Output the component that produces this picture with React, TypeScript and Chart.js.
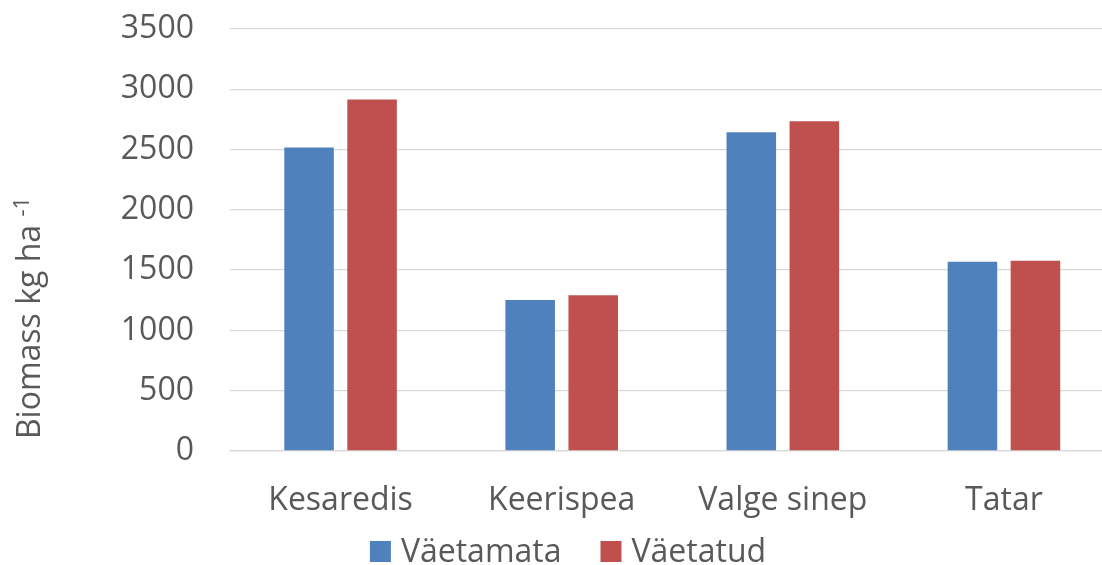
import { useEffect, useRef } from "react";
import { Chart, registerables } from "chart.js";

Chart.register(...registerables);

// Biomass per cover crop, without and with fertiliser
const categories = ["Kesaredis", "Keerispea", "Valge sinep", "Tatar"];
const seriesNames = ["Väetamata", "Väetatud"];
const unfertilised = [2518, 1252, 2643, 1570];
const fertilised = [2916, 1291, 2734, 1578];
const yTickValues = [0, 500, 1000, 1500, 2000, 2500, 3000, 3500];
const seriesColors = ["#4f81bd", "#c0504d"];

const TEXT = "#595959";
const GRID = "#d9d9d9";
const FONT = "'Open Sans', sans-serif";

// Rotated y-axis title with the "-1" exponent raised and smaller
const yTitlePlugin = {
  id: "yTitleWithExponent",
  afterDraw(chart: Chart) {
    const { ctx, chartArea } = chart;
    const main = "Biomass kg ha ";
    const sup = "-1";
    ctx.save();
    ctx.fillStyle = TEXT;
    ctx.textBaseline = "alphabetic";
    ctx.textAlign = "left";
    ctx.font = `32px ${FONT}`;
    const w1 = ctx.measureText(main).width;
    ctx.font = `22px ${FONT}`;
    const w2 = ctx.measureText(sup).width;
    const total = w1 + w2;
    const cy = (chartArea.top + chartArea.bottom) / 2 + 78;
    ctx.translate(39.5, cy);
    ctx.rotate(-Math.PI / 2);
    ctx.font = `32px ${FONT}`;
    ctx.fillText(main, -total / 2, 0);
    ctx.font = `22px ${FONT}`;
    ctx.fillText(sup, -total / 2 + w1, -11);
    ctx.restore();
  },
};

// Legend row under the category labels
const legendPlugin = {
  id: "bottomLegend",
  afterDraw(chart: Chart) {
    const { ctx, chartArea } = chart;
    const box = 21;
    const textGap = 10;
    const itemGap = 39;
    ctx.save();
    ctx.font = `32px ${FONT}`;
    ctx.textBaseline = "alphabetic";
    ctx.textAlign = "left";
    const widths = chart.data.datasets.map((d) => ctx.measureText(String(d.label)).width);
    const total =
      widths.reduce((s, w) => s + box + textGap + w, 0) + itemGap * (widths.length - 1);
    let x = chart.width / 2 + 7 - total / 2;
    const boxTop = chartArea.bottom + 90;
    const baseline = chartArea.bottom + 110.5;
    chart.data.datasets.forEach((d, i) => {
      ctx.fillStyle = String(d.backgroundColor);
      ctx.fillRect(x, boxTop, box, box);
      ctx.fillStyle = TEXT;
      ctx.fillText(String(d.label), x + box + textGap, baseline);
      x += box + textGap + widths[i] + itemGap;
    });
    ctx.restore();
  },
};

export default function App() {
  const canvasRef = useRef<HTMLCanvasElement | null>(null);

  useEffect(() => {
    if (!canvasRef.current) return;
    const chart = new Chart(canvasRef.current, {
      type: "bar",
      data: {
        labels: categories,
        datasets: [
          {
            label: seriesNames[0],
            data: unfertilised,
            backgroundColor: seriesColors[0],
            categoryPercentage: 0.57,
            barPercentage: 0.786,
          },
          {
            label: seriesNames[1],
            data: fertilised,
            backgroundColor: seriesColors[1],
            categoryPercentage: 0.57,
            barPercentage: 0.786,
          },
        ],
      },
      options: {
        responsive: false,
        animation: false,
        layout: { padding: { top: 29, right: 7.5, bottom: 44, left: 0 } },
        plugins: {
          legend: { display: false },
          tooltip: { enabled: false },
        },
        scales: {
          x: {
            grid: { display: false, drawTicks: false },
            border: { display: true, color: GRID, width: 1.3 },
            ticks: {
              color: TEXT,
              font: { family: FONT, size: 32 },
              padding: 31,
              maxRotation: 0,
            },
            afterFit(scale: any) {
              scale.height = 70;
              scale.paddingLeft = 0;
              scale.paddingRight = 0;
            },
          },
          y: {
            min: 0,
            max: 3500,
            afterBuildTicks(scale: any) {
              scale.ticks = yTickValues.map((v) => ({ value: v }));
            },
            grid: { color: GRID, lineWidth: 1.3, drawTicks: false },
            border: { display: false },
            ticks: {
              color: TEXT,
              font: { family: FONT, size: 32 },
              padding: 36,
              callback: (v: any) => String(v),
            },
            afterFit(scale: any) {
              scale.width = 230;
              scale.paddingTop = 0;
              scale.paddingBottom = 0;
            },
          },
        },
      },
      plugins: [yTitlePlugin, legendPlugin],
    });
    return () => chart.destroy();
  }, []);

  return (
    <div
      style={{
        position: "fixed",
        left: 0,
        top: 0,
        width: 1102,
        height: 565,
        overflow: "hidden",
        background: "#ffffff",
      }}
    >
      <canvas ref={canvasRef} width={1122} height={565} />
    </div>
  );
}
